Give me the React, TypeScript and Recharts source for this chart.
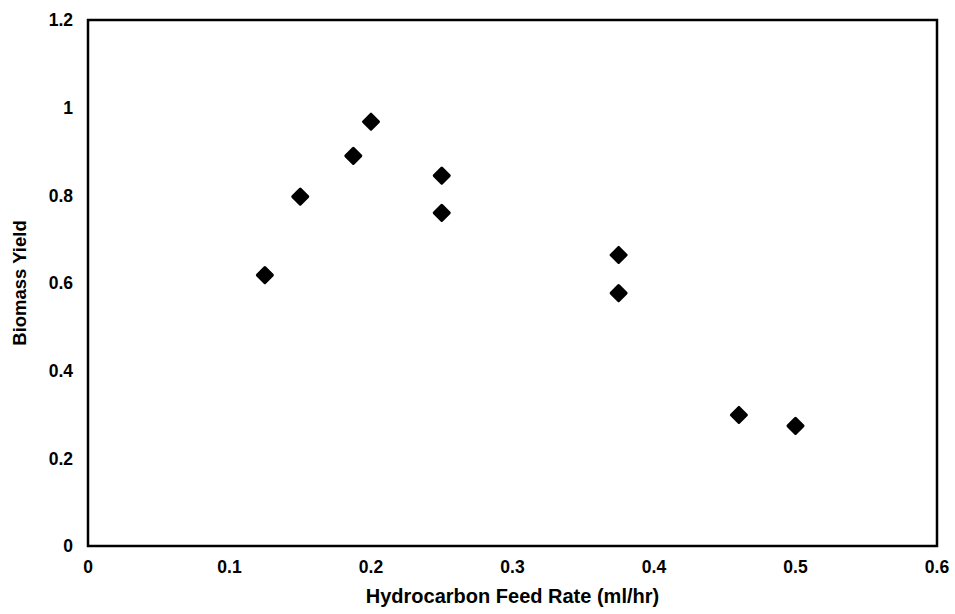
import React from "react";
import {
  ScatterChart,
  Scatter,
  XAxis,
  YAxis,
  ReferenceArea,
} from "recharts";

// feed rate (ml/hr) vs biomass yield
const feedRate = [0.125, 0.15, 0.1875, 0.2, 0.25, 0.25, 0.375, 0.375, 0.46, 0.5];
const biomassYield = [0.618, 0.797, 0.89, 0.968, 0.845, 0.76, 0.664, 0.577, 0.299, 0.274];

const xTicks = [0, 0.1, 0.2, 0.3, 0.4, 0.5, 0.6];
const yTicks = [0, 0.2, 0.4, 0.6, 0.8, 1, 1.2];

const data = feedRate.map((x, i) => ({ x, y: biomassYield[i] }));

const FONT = "'Liberation Sans', Arial, sans-serif";
const tickStyle = { fontSize: 17.5, fontWeight: 700, fill: "#000", fontFamily: FONT };

function Diamond(props: any) {
  const { cx, cy } = props;
  const r = 7.5;
  return (
    <polygon
      points={`${cx},${cy - r} ${cx + r},${cy} ${cx},${cy + r} ${cx - r},${cy}`}
      fill="#000"
      stroke="#000"
      strokeWidth={3}
      strokeLinejoin="round"
    />
  );
}

function YTitle({ viewBox }: any) {
  const cy = viewBox.y + viewBox.height / 2;
  return (
    <text
      x={19}
      y={cy}
      transform={`rotate(-90, 19, ${cy})`}
      textAnchor="middle"
      dominantBaseline="central"
      style={{ fontSize: 18.5, fontWeight: 700, fontFamily: FONT }}
      fill="#000"
    >
      Biomass Yield
    </text>
  );
}

function XTitle({ viewBox }: any) {
  const cx = viewBox.x + viewBox.width / 2;
  return (
    <text
      x={cx}
      y={596}
      textAnchor="middle"
      dominantBaseline="central"
      style={{ fontSize: 20, fontWeight: 700, fontFamily: FONT }}
      fill="#000"
    >
      Hydrocarbon Feed Rate (ml/hr)
    </text>
  );
}

export default function App() {
  return (
    <div style={{ position: "absolute", left: 0, top: 0, background: "#fff" }}>
      <ScatterChart
        width={955}
        height={614}
        margin={{ top: 20, right: 18, left: 28, bottom: 28 }}
      >
        <XAxis
          type="number"
          dataKey="x"
          domain={[0, 0.6]}
          ticks={xTicks}
          tick={tickStyle}
          tickLine={false}
          tickSize={6}
          tickMargin={9}
          axisLine={false}
          height={40}
          label={<XTitle />}
        />
        <YAxis
          type="number"
          dataKey="y"
          domain={[0, 1.2]}
          ticks={yTicks}
          tick={tickStyle}
          tickLine={false}
          tickSize={6}
          tickMargin={9}
          axisLine={false}
          width={60}
          label={<YTitle />}
        />
        <ReferenceArea
          x1={0}
          x2={0.6}
          y1={0}
          y2={1.2}
          fill="none"
          stroke="#000"
          strokeWidth={2.5}
          ifOverflow="visible"
        />
        <Scatter data={data} shape={<Diamond />} isAnimationActive={false} />
      </ScatterChart>
    </div>
  );
}
